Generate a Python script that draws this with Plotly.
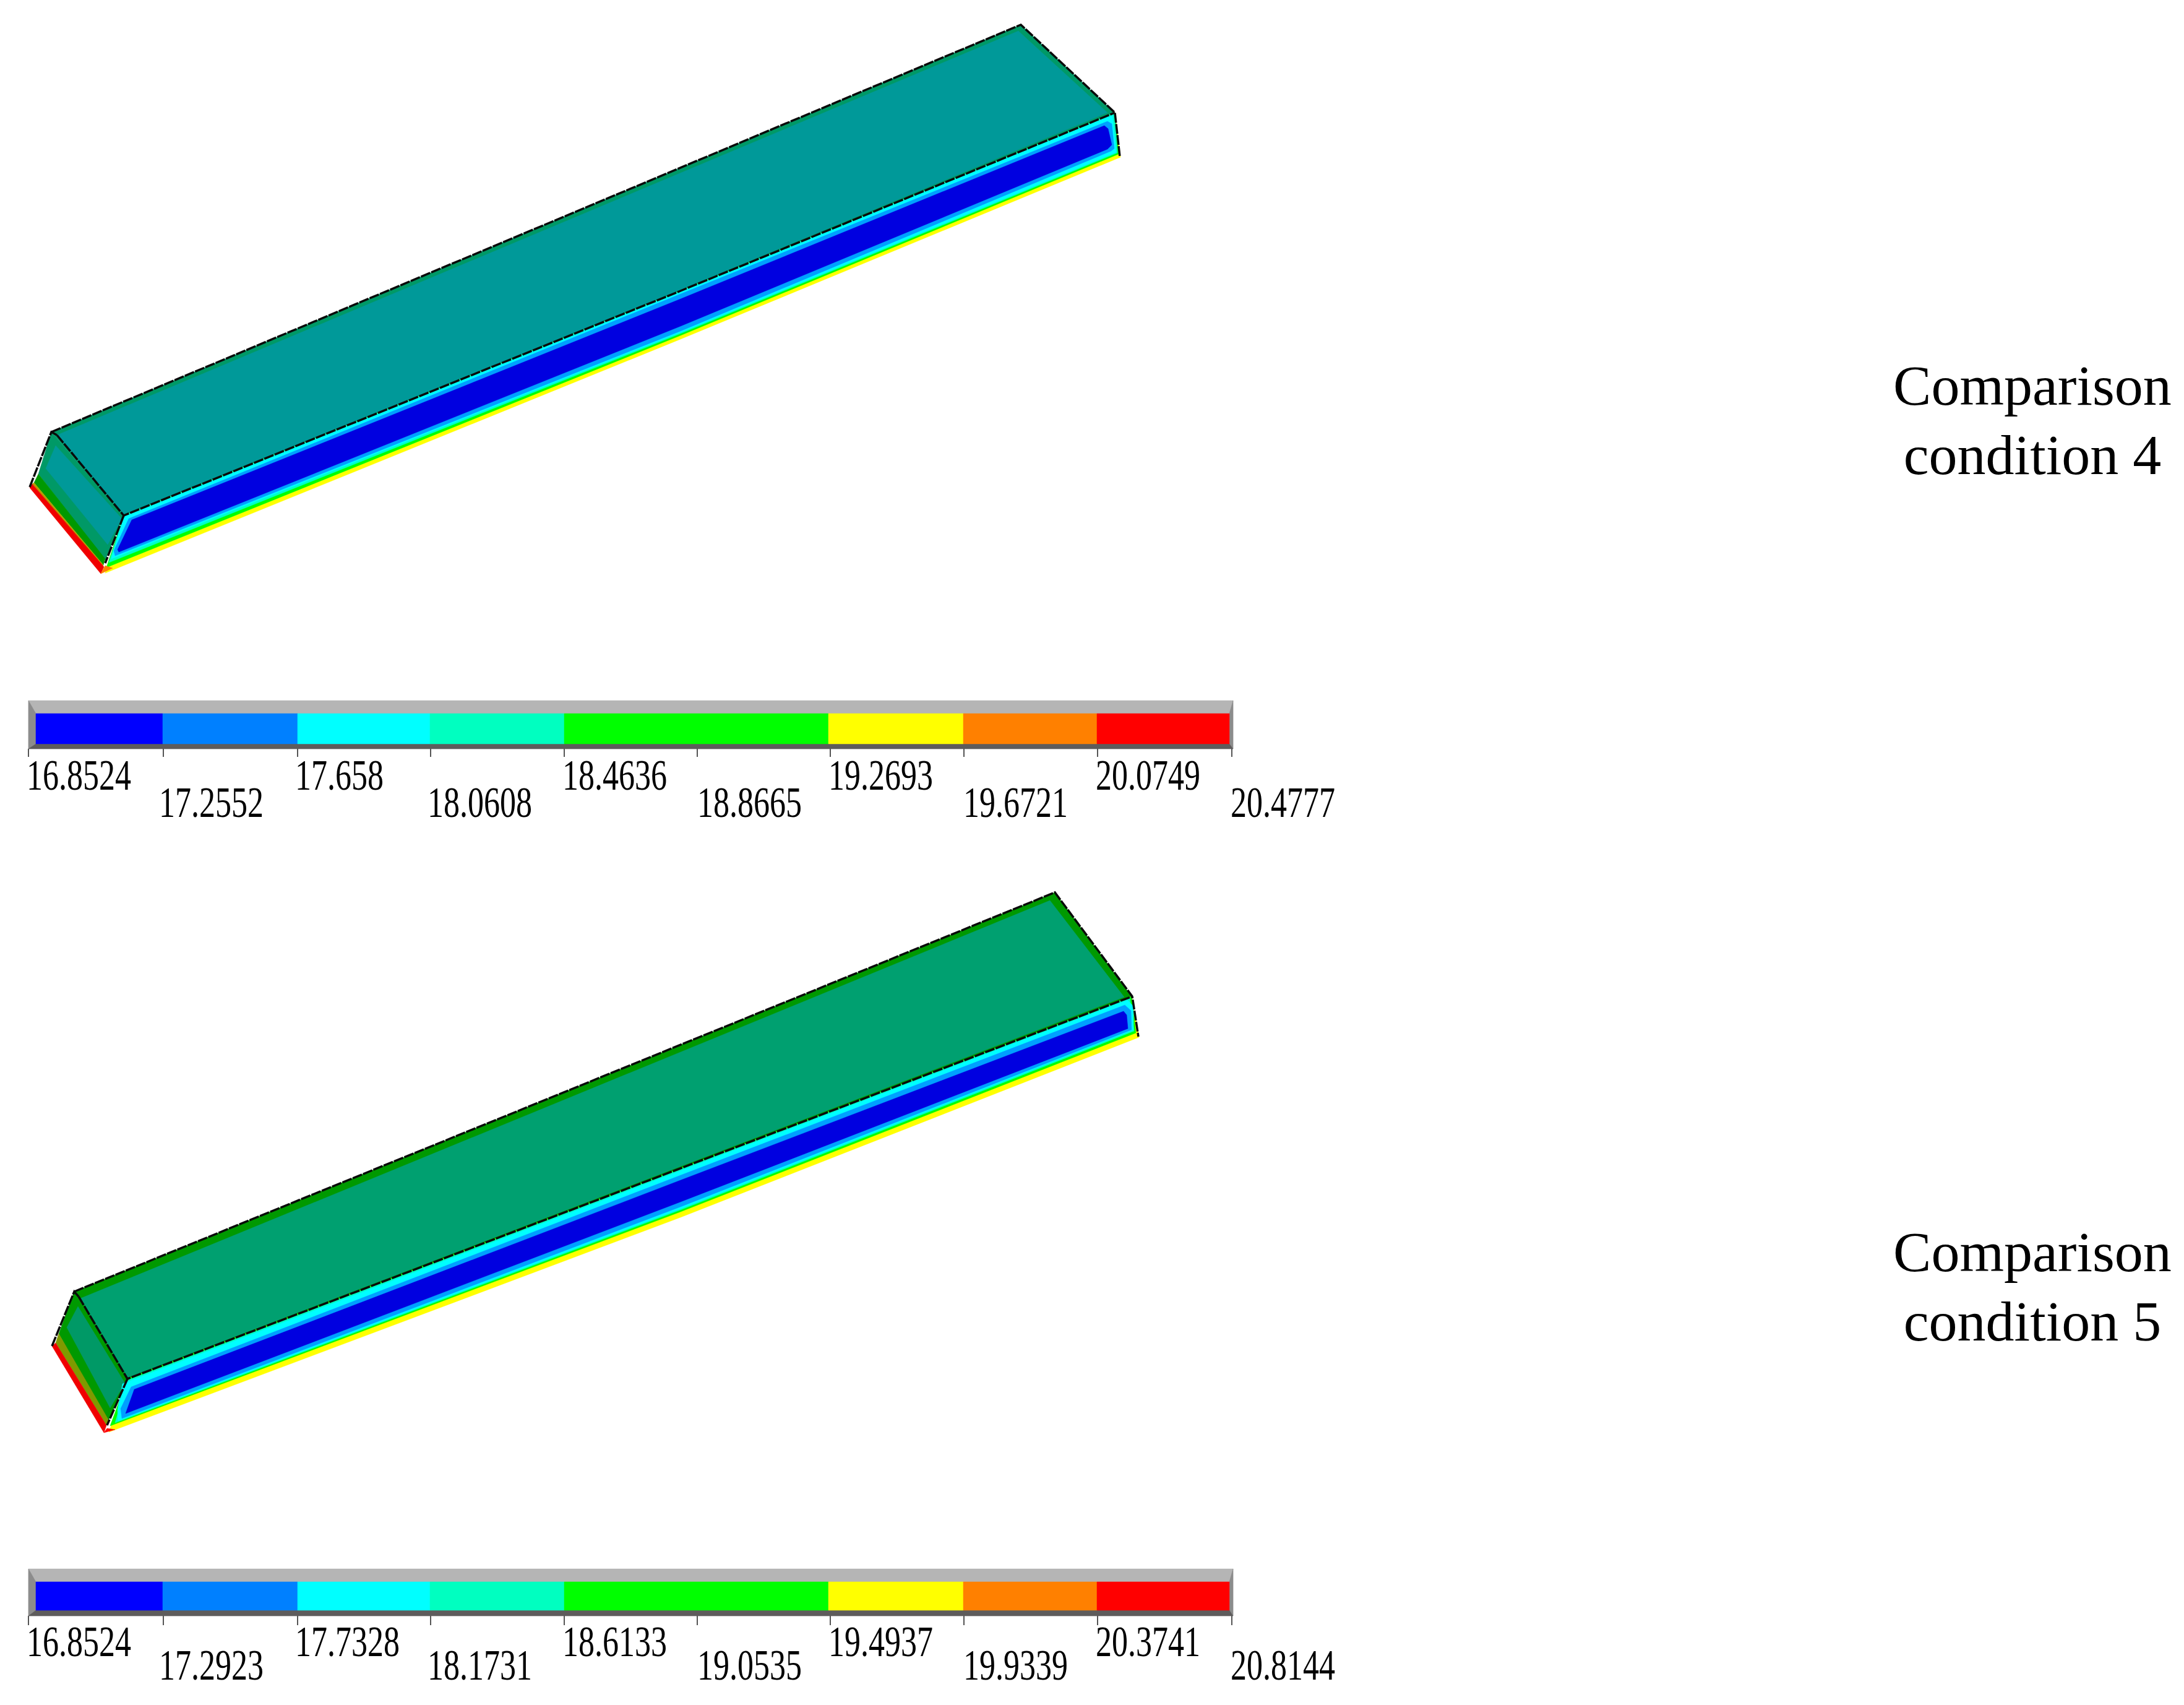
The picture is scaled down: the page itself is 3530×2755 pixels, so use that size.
import plotly.graph_objects as go

W, H = 3530, 2755
PAGE_MARGIN = 8  # the page body adds this offset around the plot
SERIF = "Liberation Serif"

# ---- colour scale ----
c4_labels = ["16.8524", "17.2552", "17.658", "18.0608", "18.4636", "18.8665", "19.2693", "19.6721", "20.0749", "20.4777"]
c5_labels = ["16.8524", "17.2923", "17.7328", "18.1731", "18.6133", "19.0535", "19.4937", "19.9339", "20.3741", "20.8144"]
bar_colors = ["#0000ff", "#0080ff", "#00ffff", "#00ffc0", "#00ff00", "#ffff00", "#ff8000", "#ff0000"]
bar_edges = [58, 263, 481, 695, 912, 1339, 1557, 1773, 1987]
tick_x = [46, 264, 481, 696, 912, 1127, 1342, 1558, 1774, 1991]
label_x = [43, 257, 477, 691, 909, 1127, 1339, 1557, 1771, 1989]
bar_top = [1132, 2535]
bar_inner = [70, 67]
bar_outer = [78, 76]
label_rows = [(125, 169), (122, 160)]

# ---- contour regions of condition 4 (closed outlines) ----
c4_regions = [
    ("#009966", [83, 200, 170, 62], [698, 833, 905, 766]),
    ("#009999", [90, 197, 174, 74], [720, 838, 880, 757]),
    ("#009900", [62, 170, 167, 55], [766, 903, 913, 780]),
    ("#b89a00", [55, 167, 166, 52], [780, 913, 918, 782]),
    ("#f00000", [52, 168, 163, 48], [782, 916, 927, 788]),
    ("#009966", [83, 1650, 1802, 1100, 200], [698, 40, 182, 470, 833]),
    ("#009999", [92, 1646, 1790, 1100, 200], [703, 50, 182, 468, 831]),
    ("#ffff00", [200, 1100, 1802, 1811, 1100, 170], [833, 470, 182, 254, 548, 926]),
    ("#00ff00", [200, 1100, 1802, 1808, 1100, 172], [833, 470, 182, 249, 542, 917]),
    ("#ff8000", [170, 182, 163], [914, 918, 927]),
    ("#00ffc8", [200, 1100, 1802, 1806, 1100, 176], [833, 470, 182, 247, 539, 909]),
    ("#00ffff", [200, 1100, 1798, 1804, 1100, 180], [835, 471, 186, 246, 537, 903]),
    ("#00a0ff", [208, 1100, 1790, 1797, 1801, 1796, 1100, 186, 184],
     [838, 475, 196, 200, 240, 244, 535, 898, 890]),
    ("#0000e0", [213, 1100, 1785, 1791, 1797, 1790, 1100, 192, 190],
     [840, 483, 203, 208, 234, 241, 527, 892, 888]),
]
c4_edges = [
    ([48, 83, 92], [787, 698, 703]),
    ([83, 1650, 1802, 1810], [698, 40, 182, 253]),
    ([92, 200, 1100, 1802], [703, 833, 470, 182]),
    ([200, 170], [833, 910]),
]

# ---- contour regions of condition 5 ----
c5_regions = [
    ("#009900", [120, 206, 173, 95], [2087, 2228, 2300, 2155]),
    ("#009966", [126, 202, 178, 108], [2111, 2235, 2275, 2145]),
    ("#7f9a00", [95, 177, 172, 90], [2155, 2297, 2303, 2170]),
    ("#f00000", [90, 172, 168, 84], [2170, 2303, 2315, 2175]),
    ("#009900", [120, 1705, 1829, 206], [2087, 1442, 1610, 2228]),
    ("#00a070", [130, 1697, 1817, 206], [2098, 1455, 1611, 2226]),
    ("#ffff00", [206, 1829, 1841, 1100, 176], [2228, 1610, 1676, 1967, 2314]),
    ("#00ff00", [206, 1829, 1836, 1100, 178], [2228, 1610, 1669, 1958, 2304]),
    ("#ff0000", [173, 186, 168], [2308, 2310, 2315]),
    ("#00ffc8", [206, 1826, 1833, 1100, 186], [2230, 1612, 1666, 1955, 2299]),
    ("#00ffff", [198, 1100, 1822, 1832, 1832, 1100, 191, 190],
     [2236, 1892, 1616, 1626, 1664, 1953, 2296, 2278]),
    ("#00a0ff", [212, 1100, 1818, 1828, 1829, 1100, 197, 195],
     [2241, 1899, 1624, 1633, 1664, 1950, 2292, 2276]),
    ("#0000e0", [217, 1100, 1816, 1821, 1823, 1100, 203],
     [2245, 1907, 1634, 1640, 1662, 1942, 2284]),
]
c5_edges = [
    ([84, 120, 127], [2175, 2087, 2095]),
    ([120, 1705, 1830, 1840], [2087, 1442, 1610, 1675]),
    ([127, 206, 1830], [2095, 2228, 1610]),
    ([206, 173], [2228, 2303]),
]

side_labels = [["Comparison", "condition 4"], ["Comparison", "condition 5"]]
side_y = [[631, 743], [2031, 2143]]
side_x = 3285

fig = go.Figure()


def poly(xs, ys, color):
    fig.add_trace(go.Scatter(x=xs + xs[:1], y=ys + ys[:1], mode="lines", fill="toself",
                             fillcolor=color, line=dict(color=color, width=0.5),
                             hoverinfo="skip", showlegend=False))


def draw_regions(regions, edges):
    for color, xs, ys in regions:
        poly(xs, ys, color)
    for xs, ys in edges:
        fig.add_trace(go.Scatter(x=xs, y=ys, mode="lines",
                                 line=dict(color="#0a0a0a", width=3.5, dash="16px,2px"),
                                 hoverinfo="skip", showlegend=False))


def draw_bar(top, labels, inner, outer, rows):
    t = top
    poly([46, 1993, 1993, 46], [t, t, t + outer, t + outer], "#b5b5b5")
    poly([46, 58, 58, 46], [t, t + 21, t + inner, t + outer], "#8c8c8c")
    poly([1993, 1987, 1987, 1993], [t, t + 21, t + inner, t + outer], "#8c8c8c")
    poly([46, 1993, 1987, 58], [t + outer, t + outer, t + inner, t + inner], "#5e5c5c")
    for i, color in enumerate(bar_colors):
        l, r = bar_edges[i], bar_edges[i + 1]
        poly([l, r, r, l], [t + 21, t + 21, t + inner, t + inner], color)
    for x in tick_x:
        fig.add_trace(go.Scatter(x=[x, x], y=[t + outer, t + 91], mode="lines",
                                 line=dict(color="#555555", width=2),
                                 hoverinfo="skip", showlegend=False))
    fig.add_trace(go.Scatter(
        x=label_x, y=[t + rows[i % 2] for i in range(10)],
        mode="text", text=labels, textposition="middle right",
        textfont=dict(family=SERIF, size=52, color="#000000"),
        hoverinfo="skip", showlegend=False))


draw_regions(c4_regions, c4_edges)
draw_regions(c5_regions, c5_edges)
draw_bar(bar_top[0], c4_labels, bar_inner[0], bar_outer[0], label_rows[0])
draw_bar(bar_top[1], c5_labels, bar_inner[1], bar_outer[1], label_rows[1])

for lines, ys in zip(side_labels, side_y):
    fig.add_trace(go.Scatter(x=[side_x, side_x], y=ys, mode="text", text=lines,
                             textposition="middle center",
                             textfont=dict(family=SERIF, size=92, color="#000000"),
                             hoverinfo="skip", showlegend=False))

fig.update_layout(
    width=W, height=H, margin=dict(l=0, r=0, t=0, b=0),
    plot_bgcolor="#ffffff", paper_bgcolor="#ffffff", showlegend=False,
    xaxis=dict(range=[PAGE_MARGIN, W + PAGE_MARGIN], visible=False, fixedrange=True),
    yaxis=dict(range=[H + PAGE_MARGIN, PAGE_MARGIN], visible=False, fixedrange=True),
)

# The colour-bar numbers in the reference are tall, condensed type: stretch them vertically.
STRETCH = """
document.querySelectorAll('.textpoint text').forEach(function (t) {
  if (parseFloat(t.style.fontSize) < 60) {
    var bb = t.getBBox();
    var mid = bb.y + bb.height / 2;
    t.setAttribute('transform', 'translate(0,' + mid + ') scale(1,1.36) translate(0,' + (-mid) + ')');
  }
});
"""
fig.write_html("out.html", config={"displayModeBar": False}, post_script=STRETCH)
